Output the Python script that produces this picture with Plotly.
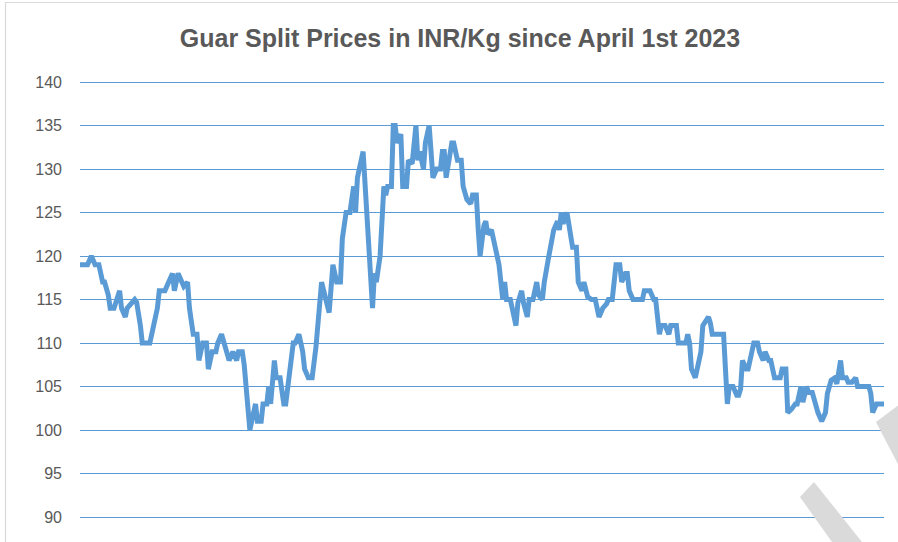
import datetime as dt
import plotly.graph_objects as go

title_text = "Guar Split Prices in INR/Kg since April 1st 2023"
start_date = dt.date(2023, 4, 1)

# day offsets since April 1st 2023
day_offsets = [
    0, 4, 6, 8, 10, 12, 13, 15, 16, 18, 21, 22, 24, 25, 29, 30, 32, 33, 37, 39,
    41, 42, 45, 47, 49, 50, 52, 55, 57, 58, 60, 62, 63, 65, 67, 68, 70, 72, 73, 75,
    77, 79, 81, 83, 84, 86, 87, 90, 91, 93, 94, 96, 97, 99, 100, 101, 103, 104, 106, 108,
    109, 111, 113, 114, 116, 118, 119, 121, 123, 125, 128, 132, 134, 136, 138, 139, 141, 143, 145, 146,
    147, 150, 152, 153, 155, 156, 157, 159, 161, 162, 163, 165, 166, 167, 168, 170, 171, 173, 174, 176,
    178, 179, 180, 182, 183, 185, 187, 189, 191, 192, 193, 194, 197, 198, 200, 202, 203, 205, 207, 208,
    210, 211, 212, 214, 215, 216, 218, 220, 222, 224, 225, 226, 228, 229, 231, 232, 234, 235, 237, 238,
    240, 242, 243, 245, 246, 248, 251, 253, 254, 255, 256, 258, 260, 261, 263, 264, 266, 267, 269, 271,
    273, 275, 277, 279, 280, 282, 284, 286, 287, 289, 290, 291, 293, 296, 298, 299, 302, 304, 305, 307,
    308, 310, 312, 313, 316, 317, 321, 322, 323, 324, 326, 327, 329, 330, 331, 333, 334, 335, 341, 342,
    343, 344, 346, 348, 349, 350, 351, 353, 354, 356, 357, 359, 360, 362, 363, 365, 366, 368, 369, 371,
    372, 374, 375, 377, 379, 380, 382, 383, 385, 386, 388, 389, 391, 393, 395, 396, 398, 400, 401, 403,
    404, 406, 407, 409, 411, 412, 414, 416, 418, 419, 420, 422, 424, 426,
]

prices = [
    119, 119, 120, 119, 119, 117, 117, 115.5, 114, 114, 116, 114, 113, 114, 115, 114.7, 112, 110, 110, 112,
    114, 116, 116, 117, 118, 116, 118, 116.5, 117, 114, 111, 111, 108, 110, 110, 107, 109, 109, 110, 111,
    109.5, 108, 109, 108, 109, 109, 107.5, 100, 101, 103, 101, 101, 103, 103, 105, 103, 108, 106, 106, 103,
    103, 106, 110, 110, 111, 109, 107, 106, 106, 109.5, 117, 113.5, 119, 117, 117, 122, 125, 125, 128, 125,
    129, 132, 124, 122, 114, 118, 117, 120, 128, 127, 128, 128, 135, 135, 133, 134, 128, 128, 131, 130.6,
    135, 131, 132, 130, 133, 135, 129, 130, 130, 132, 132, 129, 133, 133, 131, 131, 128, 126.5, 126, 127,
    127, 123, 120, 123.5, 124, 122.5, 123, 121, 119, 115, 117, 115, 115, 114, 112, 114.6, 116, 114.6, 113, 115,
    115, 117, 115.5, 115, 117, 119.5, 123, 124, 123, 125, 123.7, 125, 122, 121, 121, 117, 116, 117, 115.3, 115,
    115, 113, 114, 114.5, 115, 115, 119, 119, 117, 118, 118, 116, 115, 115, 115, 116, 116, 115, 115, 111,
    112, 112, 111, 112, 112, 110, 110, 111, 110, 107, 106, 107, 109, 112, 112.3, 113, 112.3, 111, 111, 107,
    103, 105, 105, 104, 104, 104.7, 108, 107, 107, 109, 110, 110, 109, 108, 109, 108, 108, 106, 106, 106,
    107, 107, 102, 102.4, 103, 103, 105, 103.2, 105, 104.3, 104.3, 103.4, 102, 101, 102, 104.2, 105.7, 106, 105.3, 108,
    106, 106, 105.5, 105.5, 106, 105, 105, 105, 105, 104.2, 102, 103, 103, 103,
]

dates = [start_date + dt.timedelta(days=d) for d in day_offsets]

W, H = 898, 542
ML, MR, MT, MB = 80, 14, 80, 0
PW, PH = W - ML - MR, H - MT - MB


def px(x):
    # window pixel -> paper fraction
    return (x - ML) / PW


def py(y):
    return (H - MB - y) / PH


fig = go.Figure()
fig.add_trace(go.Scatter(
    x=dates, y=prices, mode="lines",
    line=dict(color="#5B9BD5", width=5, shape="linear"),
    hoverinfo="x+y", showlegend=False,
))

# outer chart frame
fig.add_shape(type="rect", xref="paper", yref="paper",
              x0=px(5.5), x1=px(910), y0=py(560), y1=py(2.5),
              line=dict(color="#D9D9D9", width=1.2), fillcolor="rgba(0,0,0,0)", layer="below")


def poly(points):
    return "M " + " L ".join(f"{px(a):.5f},{py(b):.5f}" for a, b in points) + " Z"


# watermark strokes
for pts in ([(876, 422), (900, 404), (900, 468)],
            [(800, 497), (814, 482), (862, 542), (832, 542)]):
    fig.add_shape(type="path", xref="paper", yref="paper", path=poly(pts),
                  line=dict(width=0), fillcolor="#DADADA", layer="above")

fig.update_layout(
    width=W, height=H,
    margin=dict(l=ML, r=MR, t=MT, b=MB, pad=0),
    paper_bgcolor="white", plot_bgcolor="white",
    title=dict(text=title_text, x=460 / W, xref="container", xanchor="center",
               y=1 - 38 / H, yref="container", yanchor="middle",
               font=dict(family="Liberation Sans, Arial, sans-serif", size=25,
                         color="#595959", weight="bold")),
    xaxis=dict(range=[dates[0], dates[-1]], showgrid=False, showticklabels=False,
               zeroline=False, showline=False, ticks=""),
    yaxis=dict(range=[87.126, 140.23], dtick=5, tick0=90, showgrid=True,
               gridcolor="#5B9BD5", gridwidth=1.4, zeroline=False, showline=False,
               ticks="", ticklabelstandoff=17,
               tickfont=dict(family="Liberation Sans, Arial, sans-serif", size=16, color="#595959")),
)

fig.write_html("out.html",
               config={"displayModeBar": False},
               post_script="document.body.style.margin='0';document.body.style.overflow='hidden';")
